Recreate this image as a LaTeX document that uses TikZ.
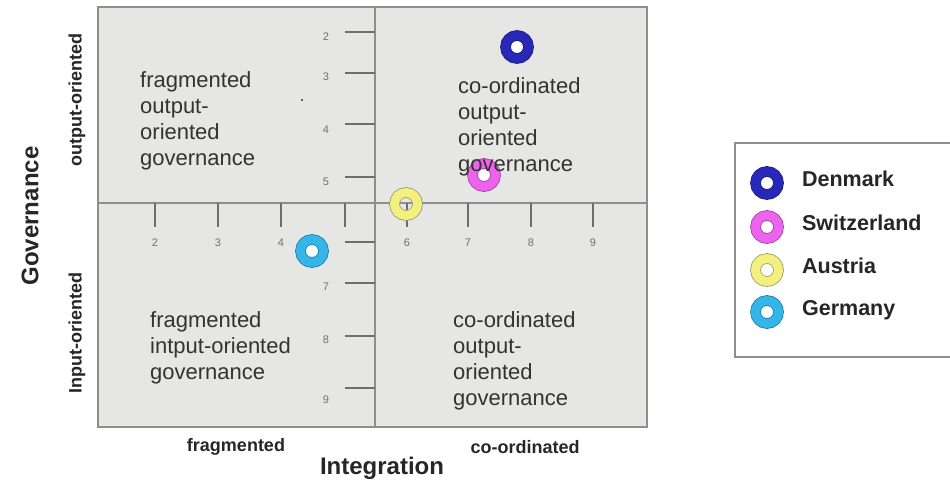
\documentclass[tikz,border=0pt]{standalone}
\usepackage{fontspec}
\setmainfont{Liberation Sans}
\usetikzlibrary{positioning}
\definecolor{plotbg}{HTML}{E6E6E4}
\definecolor{framegray}{HTML}{8E8E8E}
\definecolor{tickgray}{HTML}{6E6E6E}
\definecolor{numgray}{HTML}{707070}
\definecolor{quadtext}{HTML}{333333}
\definecolor{labtext}{HTML}{262626}
\definecolor{dkblue}{HTML}{2828B8}
\definecolor{dkblueedge}{HTML}{1C1C7C}
\definecolor{swpink}{HTML}{EC64EC}
\definecolor{swpinkedge}{HTML}{A83CA8}
\definecolor{atyellow}{HTML}{F4F07E}
\definecolor{atyellowedge}{HTML}{9A9A70}
\definecolor{decyan}{HTML}{34B6E8}
\definecolor{decyanedge}{HTML}{1E7EA8}

\begin{document}
\begin{tikzpicture}[x=1pt,y=-1pt,
    ring/.style 2 args={circle, inner sep=0pt, minimum size=23pt, line width=0.8pt,
      draw=#2, double=#1, double distance=9pt, fill=white},
    quad/.style={font=\fontsize{22}{26}\selectfont, align=left, anchor=north west,
      inner sep=0pt, text=quadtext},
    axislab/.style={font=\bfseries\fontsize{18}{18}\selectfont, text=labtext, inner sep=0pt},
    ticknum/.style={font=\fontsize{11}{11}\selectfont, text=numgray, inner sep=0pt},
    legtext/.style={font=\bfseries\fontsize{21.5}{21.5}\selectfont, text=labtext, inner sep=0pt,
      text height=1.5ex, text depth=.25ex}]
  \useasboundingbox (0,0) rectangle (950,484);

  \draw [framegray, line width=2pt, fill=plotbg] (98,7) rectangle (647,427);
  \draw [framegray, line width=2pt] (375,7) -- (375,427);
  \draw [framegray, line width=2pt] (98,203) -- (647,203);
  \fill [quadtext] (302,100) circle (1.1);

  \foreach \yy/\ly/\lab in {32/37/2,73/77/3,124/130/4,177/182/5,242/246/,283/287/7,336/340/8,388/400/9}{
    \draw [tickgray, line width=1.3pt] (345,\yy) -- (375,\yy);
    \node [ticknum] at (326,\ly) {\lab};
  }
  \foreach \xx/\lab in {155/2,218/3,281/4,345/,407/6,468/7,531/8,593/9}{
    \draw [tickgray, line width=1.3pt] (\xx,203) -- (\xx,227);
    \node [ticknum] at (\xx,243) {\lab};
  }

  \node [ring={dkblue}{dkblueedge}] (denmark) at (517,47) {};
  \node [ring={swpink}{swpinkedge}] (switzerland) at (484,175) {};
  \node [ring={atyellow}{atyellowedge}, fill=none] (austria) at (406,204) {};
  \node [ring={decyan}{decyanedge}] (germany) at (312,251) {};

  \node [quad] (fragout) at (140,71) {fragmented\\output-\\oriented\\governance};
  \node [quad] (coordout) at (458,77) {co-ordinated\\output-\\oriented\\governance};
  \node [quad] (fragin) at (150,311) {fragmented\\intput-oriented\\governance};
  \node [quad] (coordin) at (453,311) {co-ordinated\\output-\\oriented\\governance};

  \node [axislab, rotate=90, font=\bfseries\fontsize{24}{24}\selectfont] (govlab) at (30,216) {Governance};
  \node [axislab, rotate=90] (outlab) at (77,100) {output-oriented};
  \node [axislab, rotate=90] (inlab) at (77,333) {Input-oriented};
  \node [axislab] (fraglab) at (236,447) {fragmented};
  \node [axislab] (coordlab) at (525,447) {co-ordinated};
  \node [axislab, font=\bfseries\fontsize{24}{24}\selectfont] (intlab) at (382,468) {Integration};

  \draw [framegray, line width=1.5pt, fill=white] (735,143) rectangle (960,357);
  \node [ring={dkblue}{dkblueedge}] (legdk) at (767,183) {};
  \node [ring={swpink}{swpinkedge}] (legch) at (767,227) {};
  \node [ring={atyellow}{atyellowedge}] (legat) at (767,270) {};
  \node [ring={decyan}{decyanedge}] (legde) at (767,312) {};
  \node [legtext, right=23pt of legdk] {Denmark};
  \node [legtext, right=23pt of legch] {Switzerland};
  \node [legtext, right=23pt of legat] {Austria};
  \node [legtext, right=23pt of legde] {Germany};
\end{tikzpicture}
\end{document}
